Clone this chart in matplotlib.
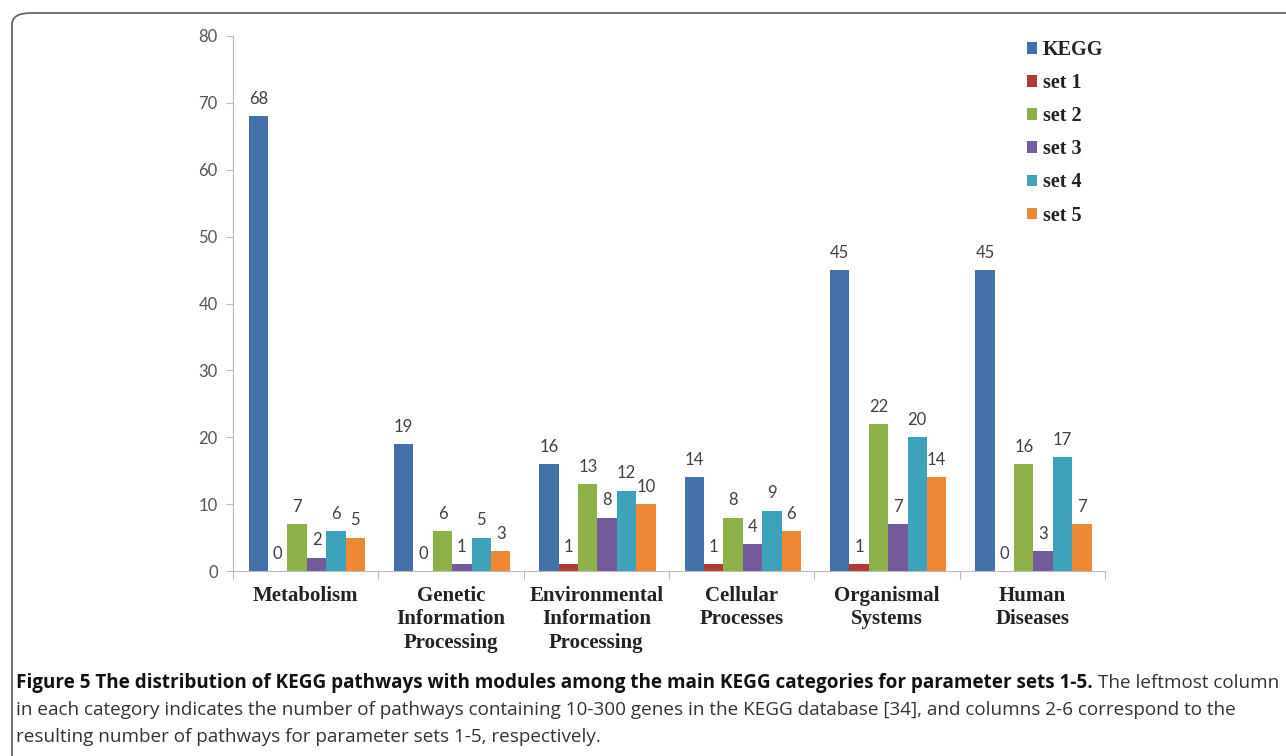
import matplotlib
matplotlib.use("Agg")
import matplotlib.pyplot as plt
import numpy as np
from matplotlib.patches import FancyBboxPatch
from matplotlib import font_manager as fm

categories = ["Metabolism", "Genetic\nInformation\nProcessing", "Environmental\nInformation\nProcessing",
              "Cellular\nProcesses", "Organismal\nSystems", "Human\nDiseases"]
series_names = ["KEGG", "set 1", "set 2", "set 3", "set 4", "set 5"]
kegg = [68, 19, 16, 14, 45, 45]
set1 = [0, 0, 1, 1, 1, 0]
set2 = [7, 6, 13, 8, 22, 16]
set3 = [2, 1, 8, 4, 7, 3]
set4 = [6, 5, 12, 9, 20, 17]
set5 = [5, 3, 10, 6, 14, 7]
yticks = [0, 10, 20, 30, 40, 50, 60, 70, 80]

colors = ["#4470AA", "#B03B39", "#8DB148", "#735A9B", "#3EA2BB", "#EE8837"]
series = [kegg, set1, set2, set3, set4, set5]

avail = {f.name for f in fm.fontManager.ttflist}
def pick(*names):
    for n in names:
        if n in avail:
            return n
    return "DejaVu Sans"
num_font = pick("Lato", "Open Sans")
serif_font = pick("Liberation Serif", "DejaVu Serif")
cap_font = pick("Liberation Sans Narrow", "Open Sans")

W, H = 1286, 756
fig = plt.figure(figsize=(W / 100, H / 100), dpi=100)

# border
border = FancyBboxPatch((12 / W, -0.2), 1.2, 1 - 13 / H + 0.2, boxstyle="round,pad=0,rounding_size=0.015",
                        transform=fig.transFigure, fill=False, edgecolor="#666666", linewidth=1.3)
fig.add_artist(border)

ax = fig.add_axes([233 / W, 1 - 571 / H, (1105 - 233) / W, (571 - 36) / H])
n = len(categories)
bw = 0.1335
x = np.arange(n)
for i, (vals, c, name) in enumerate(zip(series, colors, series_names)):
    pos = x - 3 * bw + bw / 2 + i * bw + 0.008
    bars = ax.bar(pos, vals, width=bw, color=c, label=name, linewidth=0)
    for b, v in zip(bars, vals):
        ax.annotate(str(v), (b.get_x() + b.get_width() / 2, v), xytext=(0, 12.5),
                    textcoords="offset points", ha="center", va="center",
                    fontsize=12, family=num_font, color="#404040")

ax.set_xlim(-0.5, n - 0.5)
ax.set_ylim(0, 80)
ax.set_yticks(yticks)
ax.set_yticklabels([str(t) for t in yticks], fontsize=12, family=num_font, color="#555555")
ax.set_xticks(np.arange(n + 1) - 0.5)
ax.set_xticklabels([])
ax.set_xticks(x, minor=True)
ax.set_xticklabels(categories, minor=True, fontsize=15, family=serif_font, fontweight="bold",
                   color="#222222", linespacing=1.25)
ax.tick_params(axis="x", which="minor", length=0, pad=10.5)
ax.tick_params(axis="x", which="major", length=6, color="#BBBBBB", direction="out")
ax.tick_params(axis="y", length=5, color="#BBBBBB", direction="out", pad=6)
for s in ["top", "right"]:
    ax.spines[s].set_visible(False)
ax.spines["left"].set_color("#BBBBBB")
ax.spines["bottom"].set_color("#BBBBBB")

leg = fig.legend(loc="upper left", bbox_to_anchor=(1017 / W, 1 - 30 / H), frameon=False,
                 prop={"family": serif_font, "weight": "bold", "size": 14.5}, borderpad=0,
                 handlelength=0.5, handleheight=0.5, handletextpad=0.3, labelspacing=0.65)
for t in leg.get_texts():
    t.set_color("#222222")

# caption
fig.canvas.draw()
r = fig.canvas.get_renderer()
cap_size = 13.6
y1 = 1 - 683 / H
t1 = fig.text(16 / W, y1, "Figure 5 The distribution of KEGG pathways with modules among the main KEGG categories for parameter sets 1-5.",
              family=cap_font, fontweight="bold", fontsize=cap_size, va="center", color="#111111")
bb = t1.get_window_extent(r)
t2 = fig.text(bb.x1 / W + 5 / W, y1, "The leftmost column", family=cap_font, fontsize=cap_size,
              va="center", color="#333333")
fig.text(16 / W, 1 - 710 / H, "in each category indicates the number of pathways containing 10-300 genes in the KEGG database [34], and columns 2-6 correspond to the",
         family=cap_font, fontsize=cap_size, va="center", color="#333333")
fig.text(16 / W, 1 - 737 / H, "resulting number of pathways for parameter sets 1-5, respectively.",
         family=cap_font, fontsize=cap_size, va="center", color="#333333")

fig.savefig("out.png", dpi=100)
